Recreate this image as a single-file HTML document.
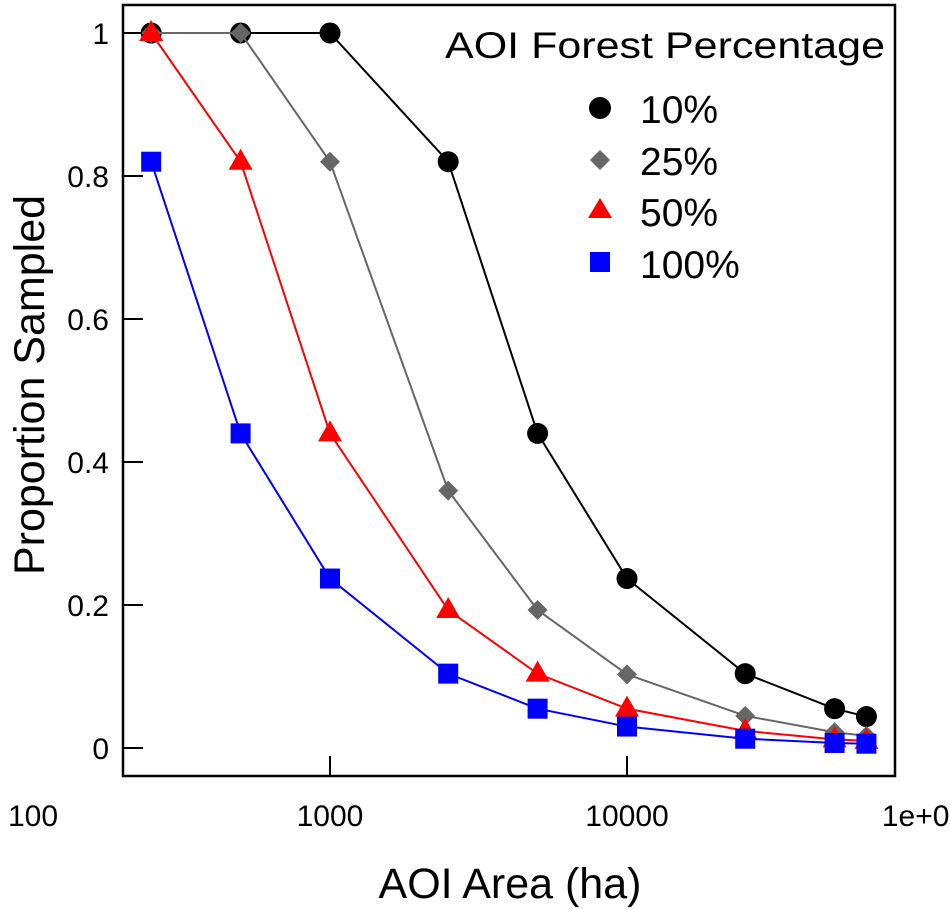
<!DOCTYPE html>
<html><head><meta charset="utf-8"><style>html,body{margin:0;padding:0;background:#fff}svg{display:block}text{font-family:"Liberation Sans",Arial,sans-serif;fill:#000}</style></head>
<body>
<svg id="chart" width="950" height="909" xmlns="http://www.w3.org/2000/svg">
<rect x="123" y="5" width="772" height="771" fill="none" stroke="#000" stroke-width="2.5"/>
<g id="axes"></g><g id="series"></g>
<text x="44" y="385" font-size="43" text-anchor="middle" transform="rotate(-90 44 385)">Proportion Sampled</text>
<text x="510" y="898" font-size="43" text-anchor="middle">AOI Area (ha)</text>
<g>
<text x="445" y="58" font-size="37" textLength="440" lengthAdjust="spacingAndGlyphs">AOI Forest Percentage</text>
<circle cx="600" cy="108" r="11" fill="#000"/>
<text x="640" y="123" font-size="39">10%</text>
<polygon points="600,150 610,160 600,170 590,160" fill="#666"/>
<text x="640" y="175" font-size="39">25%</text>
<polygon points="600,198 612,218 588,218" fill="#f00"/>
<text x="640" y="226" font-size="39">50%</text>
<rect x="590" y="252" width="20" height="20" fill="#00f"/>
<text x="640" y="278" font-size="39">100%</text>
</g>
</svg>
<script>
const areas=[250,500,1000,2500,5000,10000,25000,50000,64000];
const s10=[1,1,1,0.82,0.44,0.237,0.104,0.055,0.044];
const s25=[1,1,0.82,0.36,0.193,0.103,0.045,0.022,0.017];
const s50=[1,0.82,0.44,0.193,0.104,0.055,0.024,0.012,0.01];
const s100=[0.82,0.44,0.237,0.104,0.055,0.03,0.013,0.007,0.006];
const yTicks=[0,0.2,0.4,0.6,0.8,1];
const yTickLabels=["0","0.2","0.4","0.6","0.8","1"];
const xTicks=[100,1000,10000,100000];
const xTickLabels=["100","1000","10000","1e+05"];
const NS="http://www.w3.org/2000/svg";
function xs(v){return 330+297*(Math.log10(v)-3);}
function ys(v){return 748-715*v;}
function mk(tag,attrs,parent){const e=document.createElementNS(NS,tag);for(const k in attrs)e.setAttribute(k,attrs[k]);parent.appendChild(e);return e;}
const axes=document.getElementById('axes'),ser=document.getElementById('series');
yTicks.forEach((t,i)=>{
 const l=mk('line',{x1:123,x2:143,y1:ys(t),y2:ys(t),stroke:'#000','stroke-width':2},axes);
 
 
 const tx=mk('text',{x:109,y:ys(t)+11,'font-size':30,'text-anchor':'end'},axes);
 tx.textContent=yTickLabels[i];
 
 
});
xTicks.forEach((t,i)=>{
 const x=xs(t);
 if(x>123&&x<895){const l=mk('line',{x1:x,x2:x,y1:756,y2:776,stroke:'#000','stroke-width':2},axes);
 
 }
 const tx=mk('text',{x:x,y:826,'font-size':30,'text-anchor':'middle'},axes);
 tx.textContent=xTickLabels[i];
 
 
});
function series(vals,color,shape,name){
 const g=mk('g',{},ser);
 
 
 const pl=mk('polyline',{points:vals.map((v,i)=>xs(areas[i])+','+ys(v)).join(' '),fill:'none',stroke:color,'stroke-width':2},g);
 
 
 vals.forEach((v,i)=>{
  const x=xs(areas[i]),y=ys(v);let m;
  if(shape==='c')m=mk('circle',{cx:x,cy:y,r:10.5,fill:color},g);
  else if(shape==='d')m=mk('polygon',{points:`${x},${y-10} ${x+10},${y} ${x},${y+10} ${x-10},${y}`,fill:color},g);
  else if(shape==='t')m=mk('polygon',{points:`${x},${y-13} ${x+12},${y+8} ${x-12},${y+8}`,fill:color},g);
  else m=mk('rect',{x:x-10,y:y-10,width:20,height:20,fill:color},g);
  
  
 });
}
series(s10,'#000','c','10');
series(s25,'#666','d','25');
series(s50,'#f00','t','50');
series(s100,'#00f','s','100');
</script>
</body></html>
